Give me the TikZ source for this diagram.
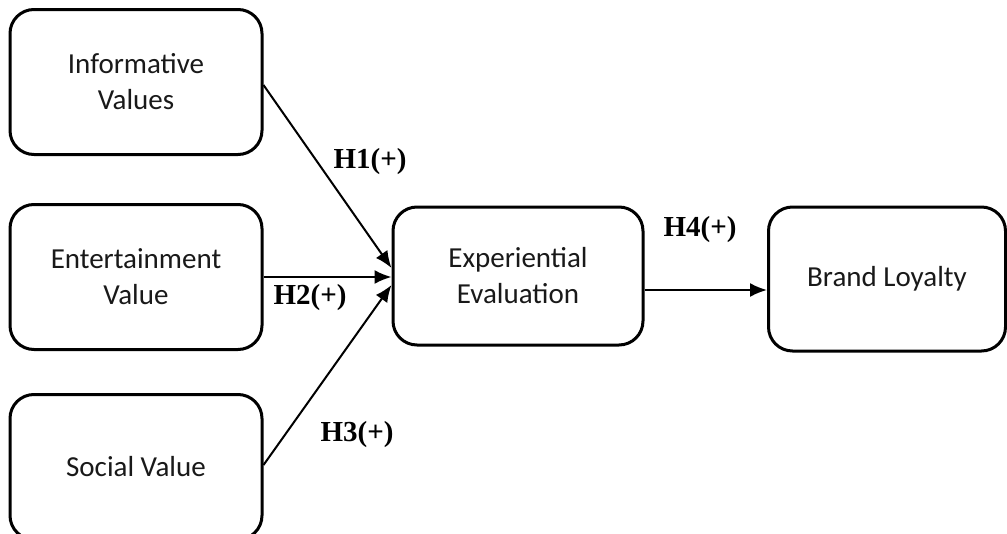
\documentclass[tikz,border=0pt]{standalone}
\usepackage{fontspec}
\setmainfont{Carlito}
\newfontfamily\labfont{Liberation Serif}
\usetikzlibrary{arrows.meta,calc}
\begin{document}
\begin{tikzpicture}[x=1pt,y=-1pt,
  box/.style={draw=black,line width=3pt,rounded corners=24pt,align=center,
    font=\fontsize{29}{36}\selectfont,text=black!90,inner sep=0pt},
  conn/.style={line width=2pt,-{Latex[length=17pt,width=14pt]}},
  hlab/.style={font=\labfont\bfseries\fontsize{29}{32}\selectfont,inner sep=0pt}]
\clip (0,0) rectangle (1007,533);
\node[box,minimum width=252pt,minimum height=145pt] (inf) at (136,82) {Informative\\Values};
\node[box,minimum width=252pt,minimum height=145pt] (ent) at (136,277) {Entertainment\\Value};
\node[box,minimum width=252pt,minimum height=145pt] (soc) at (136,467) {Social Value};
\node[box,minimum width=250pt,minimum height=138pt] (exp) at (518,276) {Experiential\\Evaluation};
\node[box,minimum width=237pt,minimum height=144pt] (bl) at (887,279) {Brand Loyalty};
\draw[conn] ($(inf.east)+(0,3)$) -- ($(exp.west)+(0,-8)$);
\draw[conn] (ent.east) -- ($(exp.west)+(0,1)$);
\draw[conn] ($(soc.east)+(0,-2)$) -- ($(exp.west)+(0,9)$);
\draw[conn] ($(exp.east)+(0,14)$) -- ($(bl.west)+(0,11)$);
\node[hlab] (h1) at (370,162) {H1(+)};
\node[hlab] (h2) at (310,298) {H2(+)};
\node[hlab] (h3) at (357,435) {H3(+)};
\node[hlab] (h4) at (700,230) {H4(+)};
\end{tikzpicture}
\end{document}
